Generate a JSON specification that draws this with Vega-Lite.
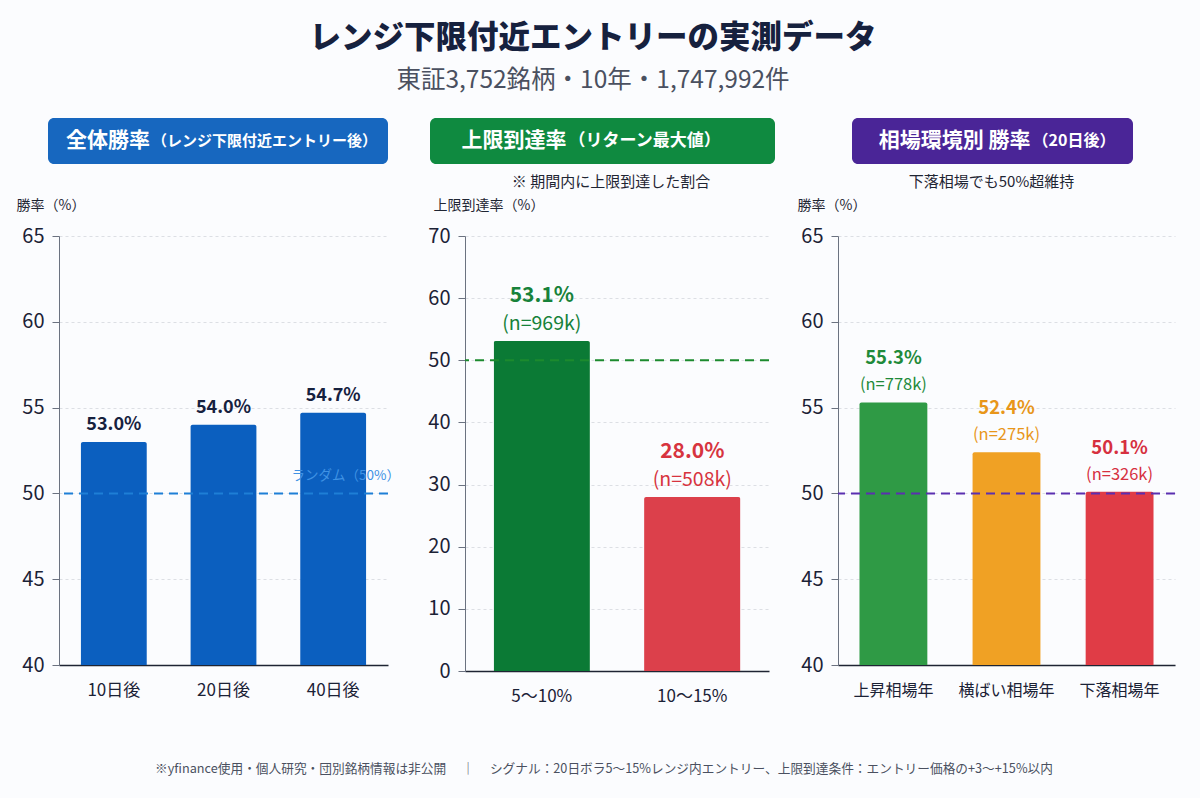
{
  "$schema": "https://vega.github.io/schema/vega-lite/v6.json",
  "background": "#fbfcfe",
  "padding": {"left": 10, "top": 23, "right": 24, "bottom": 19},
  "title": {
    "text": "レンジ下限付近エントリーの実測データ",
    "subtitle": "東証3,752銘柄・10年・1,747,992件",
    "anchor": "middle",
    "fontSize": 31.5,
    "fontWeight": 900,
    "color": "#16213e",
    "subtitleFontSize": 24.5,
    "subtitleColor": "#4a5060",
    "subtitlePadding": 14,
    "offset": 26
  },
  "datasets": {
    "horizon": [
      {"period": "10日後", "rate": 53.0},
      {"period": "20日後", "rate": 54.0},
      {"period": "40日後", "rate": 54.7}
    ],
    "reach": [
      {"band": "5〜10%", "rate": 53.1, "n": "969k"},
      {"band": "10〜15%", "rate": 28.0, "n": "508k"}
    ],
    "regime": [
      {"regime": "上昇相場年", "rate": 55.3, "n": "778k"},
      {"regime": "横ばい相場年", "rate": 52.4, "n": "275k"},
      {"regime": "下落相場年", "rate": 50.1, "n": "326k"}
    ],
    "base": [{"level": 50, "note": "ランダム（50%）"}]
  },
  "spacing": 55,
  "vconcat": [
    {
      "spacing": 11,
      "vconcat": [
        {
          "spacing": 16,
          "hconcat": [
            {
              "width": 22,
              "height": 46,
              "data": {"values": []},
              "mark": "text",
              "encoding": {}
            },
            {
              "spacing": 42,
              "hconcat": [
                {
                  "width": 340,
                  "height": 46,
                  "view": {"fill": "#1767bf", "stroke": null, "cornerRadius": 6},
                  "data": {"values": [{"main": "全体勝率", "sub": "（レンジ下限付近エントリー後）"}]},
                  "layer": [
                    {"mark": {"type": "text", "align": "right", "baseline": "middle", "fontSize": 21, "fontWeight": "bold", "color": "white", "dx": -68}, "encoding": {"text": {"field": "main"}}},
                    {"mark": {"type": "text", "align": "left", "baseline": "middle", "fontSize": 15, "fontWeight": "bold", "color": "white", "dx": -66}, "encoding": {"text": {"field": "sub"}}}
                  ]
                },
                {
                  "spacing": 77,
                  "hconcat": [
                    {
                      "width": 345,
                      "height": 46,
                      "view": {"fill": "#0f8a40", "stroke": null, "cornerRadius": 6},
                      "data": {"values": [{"main": "上限到達率", "sub": "（リターン最大値）"}]},
                      "layer": [
                        {"mark": {"type": "text", "align": "right", "baseline": "middle", "fontSize": 21, "fontWeight": "bold", "color": "white", "dx": -36}, "encoding": {"text": {"field": "main"}}},
                        {"mark": {"type": "text", "align": "left", "baseline": "middle", "fontSize": 17, "fontWeight": "bold", "color": "white", "dx": -34}, "encoding": {"text": {"field": "sub"}}}
                      ]
                    },
                    {
                      "width": 281,
                      "height": 46,
                      "view": {"fill": "#4a2597", "stroke": null, "cornerRadius": 6},
                      "data": {"values": [{"main": "相場環境別 勝率", "sub": "（20日後）"}]},
                      "layer": [
                        {"mark": {"type": "text", "align": "right", "baseline": "middle", "fontSize": 21, "fontWeight": "bold", "color": "white", "dx": 38}, "encoding": {"text": {"field": "main"}}},
                        {"mark": {"type": "text", "align": "left", "baseline": "middle", "fontSize": 16, "fontWeight": "bold", "color": "white", "dx": 40}, "encoding": {"text": {"field": "sub"}}}
                      ]
                    }
                  ]
                }
              ]
            }
          ]
        },
        {
          "spacing": 5,
          "hconcat": [
            {
              "width": 1,
              "height": 1,
              "data": {"values": []},
              "mark": "text",
              "encoding": {}
            },
            {
              "spacing": 27,
              "hconcat": [
                {
                  "width": 329,
                  "height": 429,
                  "layer": [
                    {
                      "data": {"name": "horizon"},
                      "mark": {"type": "bar", "color": "#0b5fbf", "cornerRadiusTopLeft": 2, "cornerRadiusTopRight": 2},
                      "encoding": {
                        "x": {"field": "period", "type": "nominal", "sort": null, "scale": {"paddingInner": 0.4, "paddingOuter": 0.2}, "axis": {"title": null}},
                        "y": {"field": "rate", "type": "quantitative", "scale": {"domain": [40, 65], "nice": false, "zero": false},
                          "axis": {"title": "勝率（%）", "values": [40, 45, 50, 55, 60, 65], "titleX": -43, "titleY": -24}},
                        "y2": {"datum": 40}
                      }
                    },
                    {
                      "data": {"name": "horizon"},
                      "transform": [{"calculate": "format(datum.rate, '.1f') + '%'", "as": "label"}],
                      "mark": {"type": "text", "baseline": "bottom", "dy": -8, "fontSize": 18, "fontWeight": "bold", "color": "#16213e"},
                      "encoding": {
                        "x": {"field": "period", "type": "nominal", "sort": null},
                        "y": {"field": "rate", "type": "quantitative"},
                        "text": {"field": "label"}
                      }
                    },
                    {
                      "data": {"name": "base"},
                      "mark": {"type": "rule", "color": "#1e7fd6", "strokeDash": [9, 6], "strokeWidth": 2},
                      "encoding": {"y": {"field": "level", "type": "quantitative"}}
                    },
                    {
                      "data": {"name": "base"},
                      "mark": {"type": "text", "x": "width", "align": "right", "baseline": "middle", "dx": 12, "dy": -17, "fontSize": 13.5, "color": "#3f92e4"},
                      "encoding": {"y": {"field": "level", "type": "quantitative"}, "text": {"field": "note"}}
                    }
                  ]
                },
                {
                  "width": 304,
                  "height": 435,
                  "title": {"text": "※ 期間内に上限到達した割合", "fontSize": 15, "fontWeight": "normal", "color": "#1f2533", "anchor": "middle", "frame": "group", "offset": 8, "dx": -6},
                  "layer": [
                    {
                      "data": {"name": "reach"},
                      "mark": {"type": "bar", "cornerRadiusTopLeft": 2, "cornerRadiusTopRight": 2},
                      "encoding": {
                        "x": {"field": "band", "type": "nominal", "sort": null, "scale": {"paddingInner": 0.36, "paddingOuter": 0.19}, "axis": {"title": null}},
                        "y": {"field": "rate", "type": "quantitative", "scale": {"domain": [0, 70], "nice": false},
                          "axis": {"title": "上限到達率（%）", "values": [0, 10, 20, 30, 40, 50, 60, 70], "titleX": -32, "titleY": -24}},
                        "color": {"field": "band", "type": "nominal", "scale": {"domain": ["5〜10%", "10〜15%"], "range": ["#0b7a35", "#dc404b"]}, "legend": null}
                      }
                    },
                    {
                      "data": {"name": "reach"},
                      "transform": [{"calculate": "format(datum.rate, '.1f') + '%'", "as": "label"}],
                      "mark": {"type": "text", "baseline": "bottom", "dy": -35, "fontSize": 21, "fontWeight": "bold"},
                      "encoding": {
                        "x": {"field": "band", "type": "nominal", "sort": null},
                        "y": {"field": "rate", "type": "quantitative"},
                        "text": {"field": "label"},
                        "color": {"field": "band", "type": "nominal", "scale": {"domain": ["5〜10%", "10〜15%"], "range": ["#17823a", "#d7343f"]}, "legend": null}
                      }
                    },
                    {
                      "data": {"name": "reach"},
                      "transform": [{"calculate": "'(n=' + datum.n + ')'", "as": "nlabel"}],
                      "mark": {"type": "text", "baseline": "bottom", "dy": -7, "fontSize": 19.5},
                      "encoding": {
                        "x": {"field": "band", "type": "nominal", "sort": null},
                        "y": {"field": "rate", "type": "quantitative"},
                        "text": {"field": "nlabel"},
                        "color": {"field": "band", "type": "nominal", "scale": {"domain": ["5〜10%", "10〜15%"], "range": ["#17823a", "#d7343f"]}, "legend": null}
                      }
                    },
                    {
                      "data": {"name": "base"},
                      "mark": {"type": "rule", "color": "#1c8a2e", "strokeDash": [9, 6], "strokeWidth": 2},
                      "encoding": {"y": {"field": "level", "type": "quantitative"}}
                    }
                  ],
                  "resolve": {"scale": {"color": "independent"}}
                },
                {
                  "width": 337,
                  "height": 429,
                  "title": {"text": "下落相場でも50%超維持", "fontSize": 15, "fontWeight": "normal", "color": "#1f2533", "anchor": "middle", "frame": "group", "offset": 8, "dx": -15},
                  "layer": [
                    {
                      "data": {"name": "regime"},
                      "mark": {"type": "bar", "cornerRadiusTopLeft": 2, "cornerRadiusTopRight": 2},
                      "encoding": {
                        "x": {"field": "regime", "type": "nominal", "sort": null, "scale": {"paddingInner": 0.4, "paddingOuter": 0.19}, "axis": {"title": null, "labelFontSize": 16}},
                        "y": {"field": "rate", "type": "quantitative", "scale": {"domain": [40, 65], "nice": false, "zero": false},
                          "axis": {"title": "勝率（%）", "values": [40, 45, 50, 55, 60, 65], "titleX": -41, "titleY": -24}},
                        "y2": {"datum": 40},
                        "color": {"field": "regime", "type": "nominal", "scale": {"domain": ["上昇相場年", "横ばい相場年", "下落相場年"], "range": ["#2f9a45", "#f0a124", "#e03c46"]}, "legend": null}
                      }
                    },
                    {
                      "data": {"name": "regime"},
                      "transform": [{"calculate": "format(datum.rate, '.1f') + '%'", "as": "label"}],
                      "mark": {"type": "text", "baseline": "bottom", "dy": -34, "fontSize": 18.5, "fontWeight": "bold"},
                      "encoding": {
                        "x": {"field": "regime", "type": "nominal", "sort": null},
                        "y": {"field": "rate", "type": "quantitative"},
                        "text": {"field": "label"},
                        "color": {"field": "regime", "type": "nominal", "scale": {"domain": ["上昇相場年", "横ばい相場年", "下落相場年"], "range": ["#1f8a3a", "#e8961a", "#d63040"]}, "legend": null}
                      }
                    },
                    {
                      "data": {"name": "regime"},
                      "transform": [{"calculate": "'(n=' + datum.n + ')'", "as": "nlabel"}],
                      "mark": {"type": "text", "baseline": "bottom", "dy": -9, "fontSize": 16.5},
                      "encoding": {
                        "x": {"field": "regime", "type": "nominal", "sort": null},
                        "y": {"field": "rate", "type": "quantitative"},
                        "text": {"field": "nlabel"},
                        "color": {"field": "regime", "type": "nominal", "scale": {"domain": ["上昇相場年", "横ばい相場年", "下落相場年"], "range": ["#1f8a3a", "#e8961a", "#d63040"]}, "legend": null}
                      }
                    },
                    {
                      "data": {"name": "base"},
                      "mark": {"type": "rule", "color": "#5b2fb0", "strokeDash": [9, 6], "strokeWidth": 2},
                      "encoding": {"y": {"field": "level", "type": "quantitative"}}
                    }
                  ],
                  "resolve": {"scale": {"color": "independent"}}
                }
              ]
            }
          ]
        }
      ]
    },
    {
      "width": 1160,
      "height": 20,
      "view": {"stroke": null},
      "data": {"values": [{"note": "※yfinance使用・個人研究・団別銘柄情報は非公開　 ｜ 　シグナル：20日ボラ5〜15%レンジ内エントリー、上限到達条件：エントリー価格の+3〜+15%以内"}]},
      "mark": {"type": "text", "baseline": "middle", "dx": 14, "fontSize": 12.7, "color": "#4a5060"},
      "encoding": {"text": {"field": "note"}}
    }
  ],
  "config": {
    "font": "Noto Sans CJK JP",
    "view": {"stroke": null},
    "axisX": {
      "labelAngle": 0,
      "labelFontSize": 17,
      "labelColor": "#1b2236",
      "ticks": false,
      "labelPadding": 17,
      "domainColor": "#1e2433",
      "domainWidth": 1.5,
      "grid": false
    },
    "axisY": {
      "titleAngle": 0,
      "titleAlign": "left",
      "titleBaseline": "bottom",
      "titleFontSize": 14,
      "titleFontWeight": "normal",
      "titleColor": "#1f2533",
      "labelFontSize": 20,
      "labelColor": "#1b2236",
      "labelPadding": 8,
      "tickSize": 7,
      "tickColor": "#6b7280",
      "domainColor": "#6b7280",
      "grid": true,
      "gridDash": [3, 3],
      "gridColor": "#dcdfe4"
    }
  }
}
